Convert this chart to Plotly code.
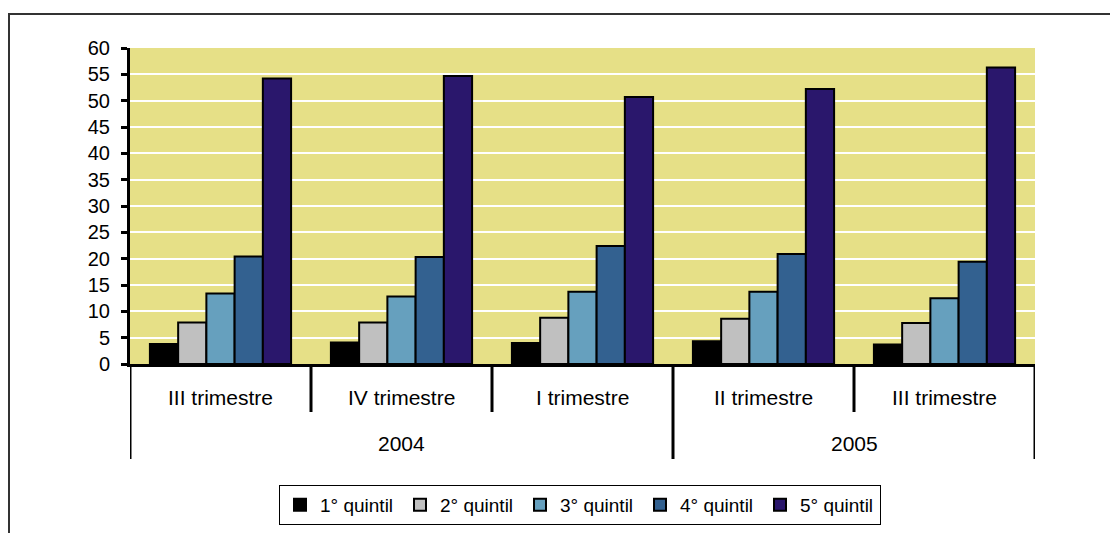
import plotly.graph_objects as go

quarters = ["III trimestre", "IV trimestre", "I trimestre", "II trimestre", "III trimestre"]
years = ["2004", "2005"]
series_names = ["1° quintil", "2° quintil", "3° quintil", "4° quintil", "5° quintil"]
q1 = [3.8, 4.1, 4.0, 4.3, 3.7]
q2 = [7.9, 7.9, 8.8, 8.6, 7.8]
q3 = [13.4, 12.8, 13.7, 13.7, 12.5]
q4 = [20.4, 20.3, 22.4, 20.9, 19.4]
q5 = [54.2, 54.7, 50.7, 52.2, 56.3]
colors = ["#000000", "#C0C0C0", "#66A0BE", "#336190", "#2A176C"]
y_ticks = list(range(0, 61, 5))

x = list(range(len(quarters)))
fig = go.Figure()
for name, vals, col in zip(series_names, [q1, q2, q3, q4, q5], colors):
    fig.add_trace(go.Bar(x=x, y=vals, name=name, marker=dict(color=col, line=dict(color="#000000", width=2))))

def py(p):
    return (364 - p) / 316.0

shapes = []
# outer border
shapes.append(dict(type="rect", xref="paper", yref="paper", x0=(9 - 130) / 905, x1=1.2, y0=py(560), y1=py(14),
                   line=dict(color="#333333", width=2), layer="below"))
# dividers
short_b = [0.5, 1.5, 3.5]
long_b = [-0.5, 2.5, 4.5]
for b in short_b:
    shapes.append(dict(type="line", xref="x", yref="paper", x0=b, x1=b, y0=0, y1=py(412),
                       line=dict(color="#000000", width=3)))
for b in long_b:
    shapes.append(dict(type="line", xref="x", yref="paper", x0=b, x1=b, y0=0, y1=py(459),
                       line=dict(color="#000000", width=3)))

annotations = []
for i, q in enumerate(quarters):
    annotations.append(dict(x=i, y=py(397), xref="x", yref="paper", text=q, showarrow=False,
                            font=dict(size=21, color="#000000"), yanchor="middle"))
for yr, xc in zip(years, [1.0, 3.5]):
    annotations.append(dict(x=xc, y=py(443), xref="x", yref="paper", text=yr, showarrow=False,
                            font=dict(size=21, color="#000000"), yanchor="middle"))

fig.update_layout(
    width=1110, height=533,
    margin=dict(l=130, r=75, t=48, b=169, autoexpand=False),
    paper_bgcolor="#FFFFFF",
    plot_bgcolor="#E6E087",
    barmode="group", bargap=0.22, bargroupgap=0,
    font=dict(family="Liberation Sans", size=19, color="#000000"),
    showlegend=True,
    legend=dict(orientation="h", xref="container", yref="container",
                x=580 / 1110, xanchor="center", y=1 - 485 / 533, yanchor="top",
                bordercolor="#000000", borderwidth=1, bgcolor="#FFFFFF",
                font=dict(size=19), itemwidth=30, traceorder="normal",
                entrywidth=75, entrywidthmode="pixels"),
    shapes=shapes,
    annotations=annotations,
    xaxis=dict(range=[-0.5, 4.5], showticklabels=False, showgrid=False, zeroline=False,
               showline=True, linecolor="#000000", linewidth=3, ticks=""),
    yaxis=dict(range=[0, 60], tickvals=y_ticks, showgrid=True, gridcolor="#FFFFFF", gridwidth=2,
               zeroline=False, showline=True, linecolor="#000000", linewidth=3,
               ticks="outside", ticklen=6, tickwidth=3, tickcolor="#000000",
               tickfont=dict(size=20), ticklabelstandoff=7),
)

fig.write_html("out.html", config={"displayModeBar": False},
               post_script="document.body.style.margin='0';")
